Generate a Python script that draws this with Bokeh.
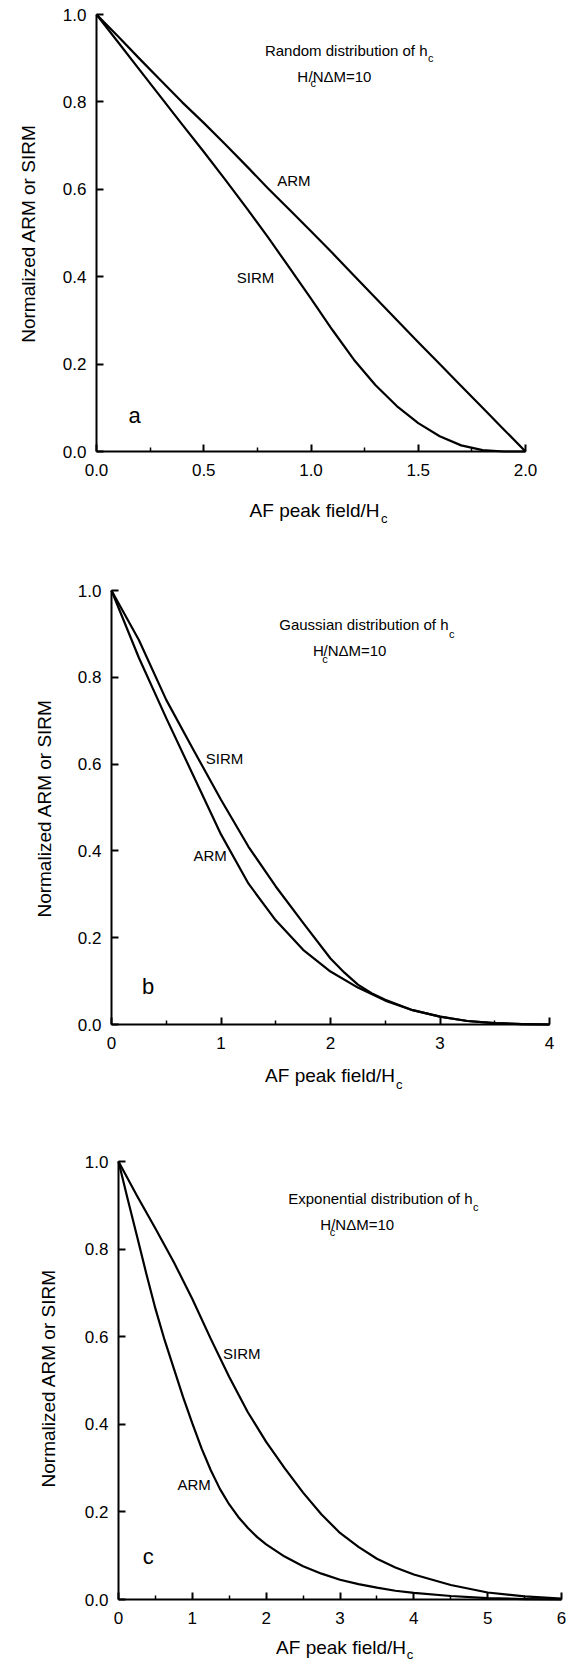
import math
from bokeh.plotting import figure
from bokeh.models import Range1d, FixedTicker, Label, NumeralTickFormatter, LinearAxis
from bokeh.layouts import column
from bokeh.embed import file_html
from bokeh.resources import INLINE

FONT = "Liberation Sans"

# ---------------- data ----------------
# (a) random distribution of hc
a_field = [0.0, 0.1, 0.2, 0.3, 0.4, 0.5, 0.6, 0.7, 0.8, 0.9, 1.0,
           1.1, 1.2, 1.3, 1.4, 1.5, 1.6, 1.7, 1.8, 1.9, 2.0]
a_arm = [1.0, 0.95, 0.899, 0.849, 0.799, 0.752, 0.703, 0.653, 0.602, 0.553, 0.504,
         0.454, 0.403, 0.352, 0.301, 0.25, 0.2, 0.15, 0.1, 0.05, 0.0]
a_sirm = [1.0, 0.937, 0.874, 0.811, 0.748, 0.686, 0.622, 0.557, 0.49, 0.42, 0.35,
          0.278, 0.21, 0.152, 0.104, 0.065, 0.035, 0.014, 0.003, 0.0, 0.0]
a_xticks = [0.0, 0.5, 1.0, 1.5, 2.0]
a_xtick_labels = ["0.0", "0.5", "1.0", "1.5", "2.0"]
a_xminor = [0.25, 0.75, 1.25, 1.75]

# (b) gaussian distribution of hc
b_arm_field = [0.0, 0.25, 0.5, 0.75, 1.0, 1.25, 1.5, 1.75, 2.0, 2.25, 2.5,
               2.75, 3.0, 3.25, 3.5, 3.75, 4.0]
b_arm = [1.0, 0.845, 0.706, 0.572, 0.438, 0.325, 0.24, 0.172, 0.122, 0.085, 0.055,
         0.033, 0.018, 0.008, 0.003, 0.001, 0.0]
b_sirm_field = [0.0, 0.25, 0.5, 0.75, 1.0, 1.25, 1.5, 1.75, 2.0, 2.125, 2.25, 2.375,
                2.5, 2.75, 3.0, 3.25, 3.5, 3.75, 4.0]
b_sirm = [1.0, 0.886, 0.748, 0.632, 0.518, 0.41, 0.318, 0.234, 0.152, 0.12, 0.092,
          0.072, 0.057, 0.033, 0.018, 0.008, 0.003, 0.001, 0.0]
b_xticks = [0, 1, 2, 3, 4]
b_xtick_labels = ["0", "1", "2", "3", "4"]
b_xminor = [0.5, 1.5, 2.5, 3.5]

# (c) exponential distribution of hc
c_arm_field = [0.0, 0.125, 0.25, 0.375, 0.5, 0.625, 0.75, 0.875, 1.0, 1.125, 1.25,
               1.375, 1.5, 1.625, 1.75, 1.875, 2.0, 2.25, 2.5, 2.75, 3.0, 3.25,
               3.5, 3.75, 4.0, 4.5, 5.0, 5.5, 6.0]
c_arm = [1.0, 0.914, 0.83, 0.745, 0.664, 0.592, 0.527, 0.462, 0.402, 0.345, 0.295,
         0.252, 0.217, 0.188, 0.164, 0.143, 0.126, 0.098, 0.076, 0.059, 0.045, 0.035,
         0.027, 0.02, 0.015, 0.008, 0.003, 0.001, 0.0]
c_sirm_field = [0.0, 0.25, 0.5, 0.75, 1.0, 1.25, 1.5, 1.75, 2.0, 2.25, 2.5, 2.75,
                3.0, 3.25, 3.5, 3.75, 4.0, 4.5, 5.0, 5.5, 6.0]
c_sirm = [1.0, 0.922, 0.847, 0.77, 0.686, 0.595, 0.508, 0.428, 0.36, 0.3, 0.244, 0.194,
          0.152, 0.12, 0.093, 0.073, 0.057, 0.033, 0.016, 0.007, 0.002]
c_xticks = [0, 1, 2, 3, 4, 5, 6]
c_xtick_labels = ["0", "1", "2", "3", "4", "5", "6"]
c_xminor = [0.5, 1.5, 2.5, 3.5, 4.5, 5.5]

y_ticks = [0.0, 0.2, 0.4, 0.6, 0.8, 1.0]
y_tick_labels = ["0.0", "0.2", "0.4", "0.6", "0.8", "1.0"]

W = 570


def panel(arm_x, arm, sirm_x, sirm, xticks, xlabels, xminor, height, frame, xfmt,
          pos, title, letter):
    # frame = pixel positions (in this figure) of x=0, x=max, y=1, y=0
    L, R, T, B = frame
    xmax = xticks[-1]
    sx = (R - L) / xmax
    sy = float(B - T)
    p = figure(width=W, height=height, output_backend="svg", toolbar_location=None,
               x_axis_type=None, y_axis_type=None,
               x_range=Range1d(-L / sx, xmax + (W - R) / sx),
               y_range=Range1d(-(height - B) / sy, 1 + T / sy),
               min_border_left=0, min_border_right=0, min_border_top=0,
               min_border_bottom=0)
    p.outline_line_color = None
    p.background_fill_color = "white"
    p.border_fill_color = "white"

    def d(fx, fy):
        return ((fx - L) / sx, (B - fy) / sy)

    def lab(fx, fy, text, size, align="left", angle=0.0):
        x, y = d(fx, fy)
        p.add_layout(Label(x=x, y=y, text=text, text_font=FONT,
                           text_font_size=f"{size}px", text_align=align,
                           text_baseline="middle", text_color="black", angle=angle))

    p.line(arm_x, arm, line_width=2.2, color="black", line_join="round")
    p.line(sirm_x, sirm, line_width=2.2, color="black", line_join="round")

    xaxis = LinearAxis(fixed_location=0, bounds=(0, xmax),
                       ticker=FixedTicker(ticks=xticks, minor_ticks=xminor),
                       formatter=NumeralTickFormatter(format=xfmt),
                       major_label_overrides=dict(zip(xticks, xlabels)))
    yaxis = LinearAxis(fixed_location=0, bounds=(0, 1),
                       ticker=FixedTicker(ticks=y_ticks),
                       formatter=NumeralTickFormatter(format="0.0"),
                       major_label_overrides=dict(zip(y_ticks, y_tick_labels)))
    for ax in (xaxis, yaxis):
        ax.axis_line_color = "black"
        ax.axis_line_width = 2
        ax.major_tick_line_color = "black"
        ax.major_tick_line_width = 2
        ax.major_tick_in = 7
        ax.major_tick_out = 0
        ax.major_label_text_font = FONT
        ax.major_label_text_font_size = "17px"
        ax.major_label_text_color = "black"
    xaxis.minor_tick_line_color = "black"
    xaxis.minor_tick_line_width = 1.5
    xaxis.minor_tick_in = 4
    xaxis.minor_tick_out = 0
    yaxis.minor_tick_line_color = None
    xaxis.major_label_standoff = 12
    yaxis.major_label_standoff = 10
    p.add_layout(xaxis, "below")
    p.add_layout(yaxis, "left")

    # axis titles
    lab(*pos["yl"], "Normalized ARM or SIRM", 19, align="center", angle=math.pi / 2)
    lab(*pos["xl"], "AF peak field/H", 19, align="right")
    lab(*pos["xls"], "c", 13)
    # annotations
    lab(*pos["t1"], title, 15, align="right")
    lab(*pos["t1s"], "c", 11)
    lab(*pos["h"], "H", 15, align="right")
    lab(*pos["hs"], "c", 11)
    lab(*pos["nm"], "/N\u0394M=10", 15)
    lab(*pos["arm"], "ARM", 15, align="center")
    lab(*pos["sirm"], "SIRM", 15, align="center")
    lab(*pos["let"], letter, 22, align="center")
    return p


pa = panel(a_field, a_arm, a_field, a_sirm, a_xticks, a_xtick_labels, a_xminor, 540,
           (96, 525, 14, 451), "0.0",
           dict(yl=(27.5, 233), xl=(379, 510), xls=(380.5, 517.5),
                t1=(427, 49.5), t1s=(427.5, 57.9),
                h=(307.5, 76), hs=(310, 82.8), nm=(308, 76),
                arm=(293.3, 179.7), sirm=(255, 277.2), let=(134, 415)),
           "Random distribution of h", "a")

pb = panel(b_arm_field, b_arm, b_sirm_field, b_sirm, b_xticks, b_xtick_labels, b_xminor,
           560, (111, 549, 50, 484), "0",
           dict(yl=(43.8, 267.8), xl=(394.5, 535), xls=(395.5, 543.5),
                t1=(448, 84.2), t1s=(448.5, 93.3),
                h=(323.3, 110), hs=(321.7, 118.3), nm=(323, 110),
                arm=(209.7, 314.7), sirm=(224, 218.3), let=(147.5, 445.5)),
           "Gaussian distribution of h", "b")

pc = panel(c_arm_field, c_arm, c_sirm_field, c_sirm, c_xticks, c_xtick_labels, c_xminor,
           564, (118, 561, 61, 499), "0",
           dict(yl=(47.5, 277.7), xl=(405.5, 547), xls=(406.2, 554),
                t1=(472, 97.5), t1s=(472.5, 106.6),
                h=(330.7, 123.8), hs=(329.3, 131.3), nm=(330.7, 123.8),
                arm=(193.7, 384.2), sirm=(241.3, 253.3), let=(147.7, 456.4)),
           "Exponential distribution of h", "c")

layout = column(pa, pb, pc, spacing=0)
open("out.html", "w").write(file_html(layout, INLINE))
